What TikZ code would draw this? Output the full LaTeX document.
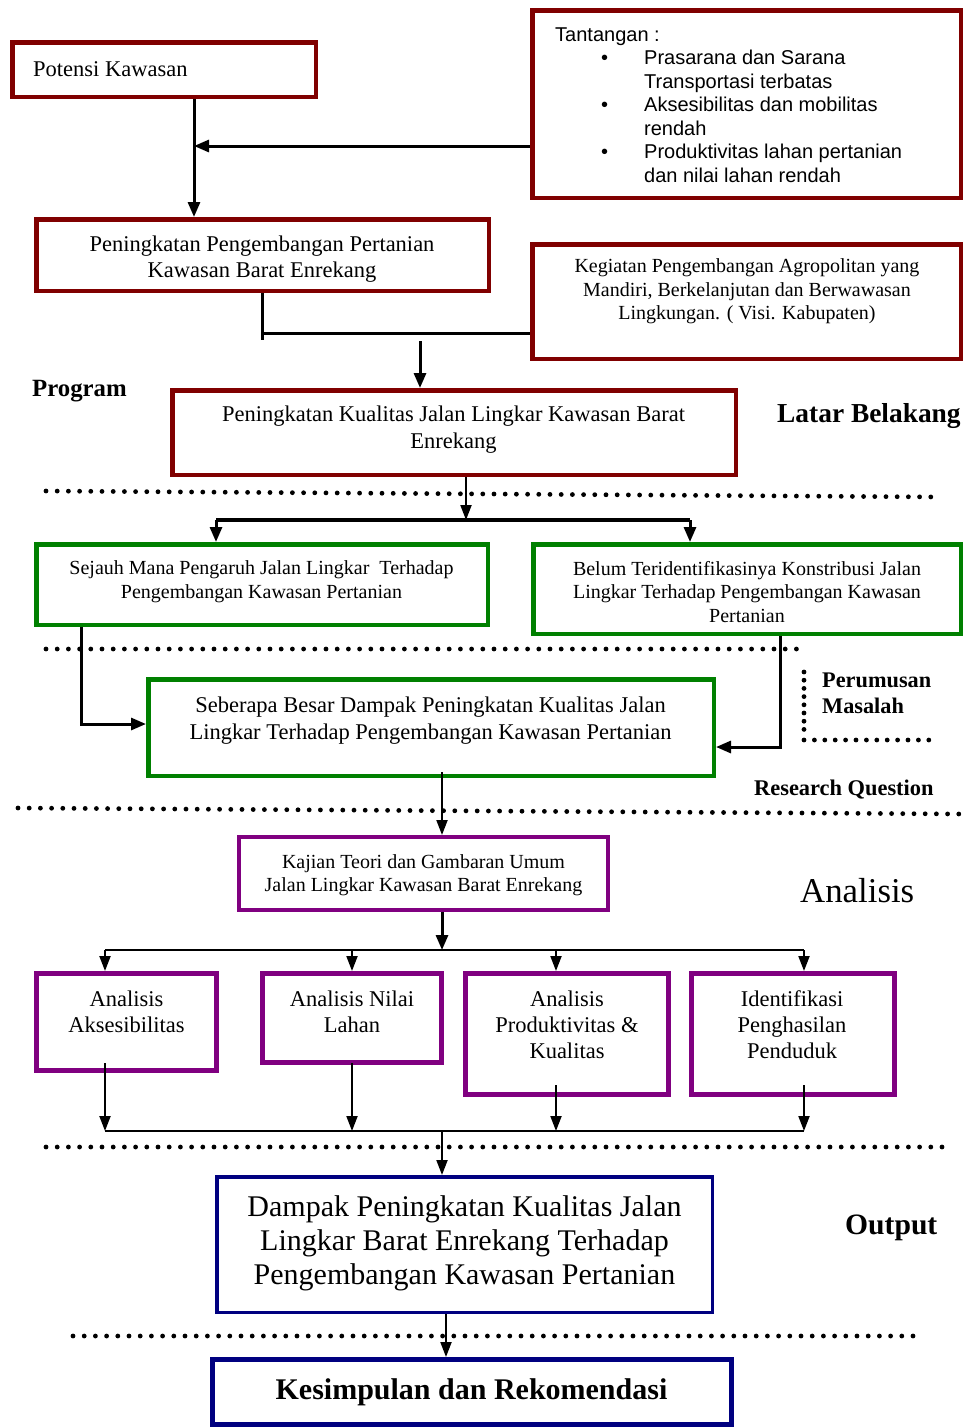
\documentclass[tikz,border=0pt]{standalone}
\usepackage{fontspec}
\setmainfont{Liberation Serif}
\newfontfamily\arialf{Liberation Sans}
\usetikzlibrary{arrows.meta,calc}
\definecolor{dred}{HTML}{800000}
\definecolor{dgreen}{HTML}{008000}
\definecolor{dpurple}{HTML}{800080}
\definecolor{dnavy}{HTML}{000080}
\newcommand{\fs}[2]{\fontsize{#1}{#2}\selectfont}
\newcommand{\bitem}{\hspace*{46pt}\makebox[43pt][l]{\textbullet}}
\newcommand{\bcont}{\hspace*{89pt}}
\newcommand{\bx}[7]{%
 \pgfmathsetmacro\myBW{#5-#3-#7}\pgfmathsetmacro\myBH{#6-#4-#7}%
 \pgfmathsetmacro\myCX{(#3+#5)/2}\pgfmathsetmacro\myCY{(#4+#6)/2}%
 \node[draw=#2, line width=#7pt, minimum width=\myBW pt, minimum height=\myBH pt, inner sep=0pt] (#1) at (\myCX,\myCY) {};}
\begin{document}
\begin{tikzpicture}[x=1pt,y=-1pt,
  txt/.style={inner sep=0pt, align=center},
  arr/.style={line width=3pt, -{Triangle[length=15pt,width=12pt]}},
  arrs/.style={line width=2pt, -{Triangle[length=15pt,width=11pt]}},
  ln/.style={line width=3pt},
  lns/.style={line width=2.5pt},
  dots/.style={line width=4.8pt, dash pattern=on 0pt off 11.2pt, line cap=round},
  lbl/.style={inner sep=0pt, anchor=west, font=\bfseries}]
\useasboundingbox (0,0) rectangle (964,1428);

% dotted separators
\draw[dots] (46,491) -- (940,497);
\draw[dots] (46,649) -- (805,649);
\draw[dots] (18,808) -- (962,814);
\draw[dots] (46,1147) -- (942,1147);
\draw[dots] (73,1336) -- (923,1336);
\draw[dots, dash pattern=on 0pt off 8.2pt] (804,672) -- (804,730);
\draw[dots, dash pattern=on 0pt off 10.4pt] (804,740) -- (929,740);

% boxes
\bx{b1}{dred}{10}{40}{318}{99}{4.5}
\bx{b2}{dred}{530}{8}{963}{200}{4.5}
\bx{b3}{dred}{34}{217}{491}{293}{4.5}
\bx{b4}{dred}{530}{242}{963}{361}{4.5}
\bx{b5}{dred}{170}{388}{738}{477}{4.5}
\bx{b6}{dgreen}{34}{542}{490}{627}{4.5}
\bx{b7}{dgreen}{531}{542}{963}{636}{4.5}
\bx{b8}{dgreen}{146}{677}{716}{778}{4.5}
\bx{b9}{dpurple}{237}{835}{610}{912}{4}
\bx{b10}{dpurple}{34}{971}{219}{1073}{5}
\bx{b11}{dpurple}{260}{971}{444}{1065}{5}
\bx{b12}{dpurple}{463}{971}{671}{1097}{5}
\bx{b13}{dpurple}{689}{971}{897}{1097}{5}
\bx{b14}{dnavy}{215}{1175}{714}{1314}{3.5}
\bx{b15}{dnavy}{210}{1357}{734}{1427}{5}

% texts
\node[txt, anchor=west, font=\fs{22.5}{26.5}] (t1) at (33,69) {Potensi Kawasan};
\node[inner sep=0pt, anchor=west, align=left, font=\arialf\fs{20}{23.5}] (t2) at (555,105)
 {Tantangan :\\ \bitem Prasarana dan Sarana\\ \bcont Transportasi terbatas\\
  \bitem Aksesibilitas dan mobilitas\\ \bcont rendah\\
  \bitem Produktivitas lahan pertanian\\ \bcont dan nilai lahan rendah};
\node[txt, font=\fs{22.5}{26.5}] (t3) at (262,259) {Peningkatan Pengembangan Pertanian\\Kawasan Barat Enrekang};
\node[txt, font=\fs{20}{23.5}] (t4) at (747,291.5) {Kegiatan Pengembangan Agropolitan yang\\Mandiri, Berkelanjutan dan Berwawasan\\Lingkungan. ( Visi. Kabupaten)};
\node[txt, font=\fs{22.5}{27}] (t5) at (453.5,429.5) {Peningkatan Kualitas Jalan Lingkar Kawasan Barat\\Enrekang};
\node[txt, font=\fs{20}{24}] (t6) at (261.5,582) {Sejauh Mana Pengaruh Jalan Lingkar\ \ Terhadap\\Pengembangan Kawasan Pertanian};
\node[txt, font=\fs{20}{23.5}] (t7) at (747,592) {Belum Teridentifikasinya Konstribusi Jalan\\Lingkar Terhadap Pengembangan Kawasan\\Pertanian};
\node[txt, font=\fs{22.5}{26.5}] (t8) at (430.5,720.5) {Seberapa Besar Dampak Peningkatan Kualitas Jalan\\Lingkar Terhadap Pengembangan Kawasan Pertanian};
\node[txt, font=\fs{20}{23.5}] (t9) at (423.5,875) {Kajian Teori dan Gambaran Umum\\Jalan Lingkar Kawasan Barat Enrekang};
\node[txt, font=\fs{22.5}{26}] (t10) at (126.5,1012) {Analisis\\Aksesibilitas};
\node[txt, font=\fs{22.5}{26}] (t11) at (352,1012) {Analisis Nilai\\Lahan};
\node[txt, font=\fs{22.5}{26}] (t12) at (567,1025) {Analisis\\Produktivitas \&\\Kualitas};
\node[txt, font=\fs{22.5}{26}] (t13) at (792,1025) {Identifikasi\\Penghasilan\\Penduduk};
\node[txt, font=\fs{30}{34}] (t14) at (464.5,1243) {Dampak Peningkatan Kualitas Jalan\\Lingkar Barat Enrekang Terhadap\\Pengembangan Kawasan Pertanian};
\node[txt, font=\bfseries\fs{30}{34}] (t15) at (471.5,1392) {Kesimpulan dan Rekomendasi};

% side labels
\node[lbl, font=\bfseries\fs{24.8}{28}] (l1) at (32,391) {Program};
\node[lbl, font=\bfseries\fs{27.4}{30}] (l2) at (777,416) {Latar Belakang};
\node[lbl, align=left, font=\bfseries\fs{22.3}{26}] (l3) at (822,693) {Perumusan\\Masalah};
\node[lbl, font=\bfseries\fs{22.4}{26}] (l4) at (754,790) {Research Question};
\node[lbl, font=\fs{34.8}{38}] (l5) at (800,891) {Analisis};
\node[lbl, font=\bfseries\fs{29.6}{32}] (l6) at (845,1228) {Output};

% junction coordinates
\coordinate (j1) at (194,146);
\coordinate (j2) at (262,333);
\coordinate (j2e) at (262,340);
\coordinate (j3) at (420,341);
\coordinate (j4) at (466,520);
\coordinate (j4l) at (216,520);
\coordinate (j4r) at (690,520);
\coordinate (j5) at (81,724);
\coordinate (j6) at (780,747);
\coordinate (j7) at (442,800);
\coordinate (j8) at (442,950);
\coordinate (ha) at (105,950);
\coordinate (hb) at (352,950);
\coordinate (hc) at (556,950);
\coordinate (hd) at (804,950);
\coordinate (la) at (105,1131);
\coordinate (lb) at (352,1131);
\coordinate (lc) at (556,1131);
\coordinate (ld) at (804,1131);
\coordinate (j9) at (442,1131);
\coordinate (j10) at (446,1336);

% connectors
\draw[arr] (b1.south -| j1) -- (b3.north -| j1);
\draw[arr] (b2.west |- j1) -- (j1);
\draw[ln] (b3.south -| j2) -- (j2e);
\draw[ln] (j2) -- (b4.west |- j2);
\draw[arr] (j3) -- (b5.north -| j3);
\draw[arrs] (b5.south -| j4) -- (j4);
\draw[line width=4pt] (j4l) -- (j4r);
\draw[arr] (j4l) -- (b6.north -| j4l);
\draw[arr] (j4r) -- (b7.north -| j4r);
\draw[arr] (b6.south -| j5) -- (j5) -- (b8.west |- j5);
\draw[arr] (b7.south -| j6) -- (j6) -- (b8.east |- j6);
\draw[arrs] ([yshift=6pt]b8.south -| j7) -- (b9.north -| j7);
\draw[arr] (b9.south -| j8) -- (j8);
\draw[lns] (ha) -- (hd);
\draw[arrs] (ha) -- (b10.north -| ha);
\draw[arrs] (hb) -- (b11.north -| hb);
\draw[arrs] (hc) -- (b12.north -| hc);
\draw[arrs] (hd) -- (b13.north -| hd);
\draw[arrs] ([yshift=10pt]b10.south -| la) -- (la);
\draw[arrs] ([yshift=2pt]b11.south -| lb) -- (lb);
\draw[arrs] ([yshift=12pt]b12.south -| lc) -- (lc);
\draw[arrs] ([yshift=12pt]b13.south -| ld) -- (ld);
\draw[lns] (la) -- (ld);
\draw[arrs] (j9) -- (b14.north -| j9);
\draw[arrs] (b14.south -| j10) -- (b15.north -| j10);
\end{tikzpicture}
\end{document}
